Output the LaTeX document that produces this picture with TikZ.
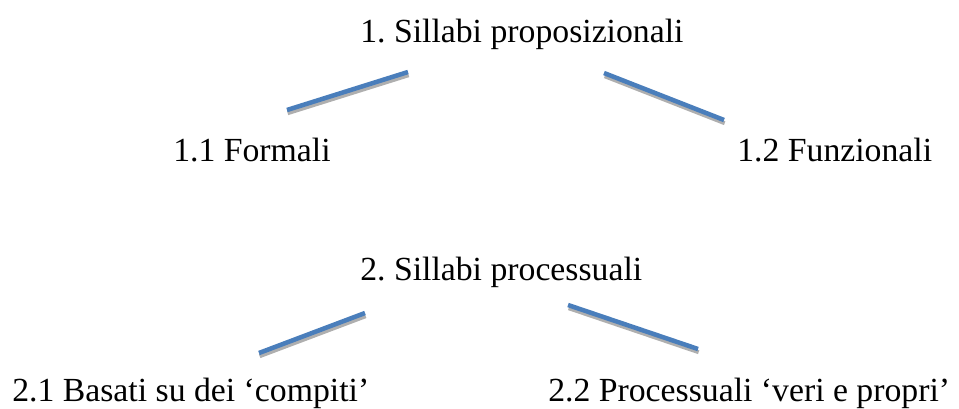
\documentclass[tikz,border=0pt]{standalone}
\usepackage{fontspec}
\setmainfont{Liberation Serif}
\frenchspacing
\definecolor{linkblue}{RGB}{74,126,187}
\definecolor{linkshade}{RGB}{175,175,175}

\begin{document}
\begin{tikzpicture}[x=0.75pt,y=-0.75pt,
  label/.style={anchor=base west,inner sep=0pt,font=\fontsize{25.3}{30}\selectfont},
  branch/.style={draw=linkblue,line width=3.4pt},
  shade/.style={draw=linkshade,line width=3pt,transform canvas={xshift=0.5pt,yshift=-2.4pt}}]

\useasboundingbox (0,0) rectangle (959,408);

\node[label] (prop) at (360,42) {1. Sillabi proposizionali};
\node[label] (form) at (173,161) {1.1 Formali};
\node[label] (funz) at (737,161) {1.2 Funzionali};

\node[label] (proc) at (360,280) {2. Sillabi processuali};
\node[label] (comp) at (12,401) {2.1 Basati su dei ‘compiti’};
\node[label] (veri) at (548,401) {2.2 Processuali ‘veri e propri’};

\coordinate (prop-l) at (408,72);
\coordinate (form-e) at (287,110);
\coordinate (prop-r) at (604,73);
\coordinate (funz-e) at (724,120);
\coordinate (proc-l) at (365,313);
\coordinate (comp-e) at (259,353);
\coordinate (proc-r) at (568,305);
\coordinate (veri-e) at (698,349);

\foreach \a/\b in {prop-l/form-e,prop-r/funz-e,proc-l/comp-e,proc-r/veri-e}{
  \draw[shade] (\a) -- (\b);
  \draw[branch] (\a) -- (\b);
}
\end{tikzpicture}
\end{document}
